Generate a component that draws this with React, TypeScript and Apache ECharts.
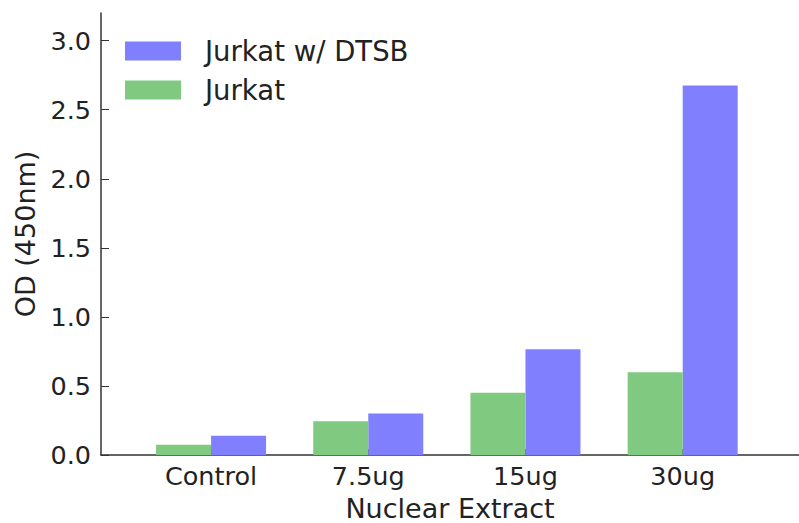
import React, { useEffect, useRef } from "react";
import * as echarts from "echarts";

const categories = ["Control", "7.5ug", "15ug", "30ug"];
const jurkatDTSB = [0.14, 0.3, 0.765, 2.675];
const jurkat = [0.075, 0.245, 0.45, 0.6];
const yTicks = [0, 0.5, 1.0, 1.5, 2.0, 2.5, 3.0];

const FONT = "DejaVu Sans";
const HALF = 0.175;

export default function App() {
  const ref = useRef<HTMLDivElement>(null);
  useEffect(() => {
    if (!ref.current) return;
    const chart = echarts.init(ref.current, undefined, { renderer: "svg" });
    const tickText = { fontFamily: FONT, fontSize: 25.5, color: "#222" };
    const nameText = { fontFamily: FONT, fontSize: 27, color: "#222" };
    chart.setOption({
      animation: false,
      backgroundColor: "#fff",
      textStyle: { fontFamily: FONT },
      grid: {
        left: 101,
        right: 0,
        top: 13,
        bottom: 68,
        containLabel: false,
        outerBoundsMode: "none",
      },
      legend: {
        orient: "vertical",
        left: 120,
        top: 32,
        itemWidth: 56,
        itemHeight: 19,
        itemGap: 11,
        icon: "rect",
        textStyle: {
          fontFamily: FONT,
          fontSize: 27.5,
          color: "#222",
          padding: [0, 0, 0, 19],
        },
        data: ["Jurkat w/ DTSB", "Jurkat"],
      },
      xAxis: {
        type: "value",
        min: -0.7,
        max: 3.74,
        splitLine: { show: false },
        axisLine: { show: true, onZero: false, lineStyle: { color: "#333", width: 1.5 } },
        axisTick: {
          show: true,
          inside: true,
          length: 6,
          customValues: categories.map((_, i) => i),
          lineStyle: { color: "#333" },
        },
        axisLabel: {
          ...tickText,
          margin: 8,
          customValues: categories.map((_, i) => i),
          formatter: (v: number) => categories[Math.round(v)] ?? "",
        },
        name: "Nuclear Extract",
        nameLocation: "middle",
        nameGap: 40,
        nameTextStyle: nameText,
      },
      yAxis: {
        type: "value",
        min: 0,
        max: 3.2,
        splitLine: { show: false },
        axisLine: { show: true, onZero: false, lineStyle: { color: "#333", width: 1.5 } },
        axisTick: {
          show: true,
          inside: true,
          length: 8,
          customValues: yTicks,
          lineStyle: { color: "#333" },
        },
        axisLabel: {
          ...tickText,
          margin: 10,
          customValues: yTicks,
          formatter: (v: number) => v.toFixed(1),
        },
        name: "OD (450nm)",
        nameLocation: "middle",
        nameRotate: 90,
        nameGap: 62,
        nameTextStyle: nameText,
      },
      series: [
        {
          name: "Jurkat w/ DTSB",
          type: "bar",
          barWidth: 55,
          barGap: "-100%",
          itemStyle: { color: "#8080ff" },
          data: jurkatDTSB.map((v, i) => [i + HALF, v]),
        },
        {
          name: "Jurkat",
          type: "bar",
          barWidth: 55,
          barGap: "-100%",
          itemStyle: { color: "#80c980" },
          data: jurkat.map((v, i) => [i - HALF, v]),
        },
      ],
    });
    return () => chart.dispose();
  }, []);
  return (
    <div
      ref={ref}
      style={{ position: "fixed", left: 0, top: 0, width: 799, height: 523 }}
    />
  );
}
